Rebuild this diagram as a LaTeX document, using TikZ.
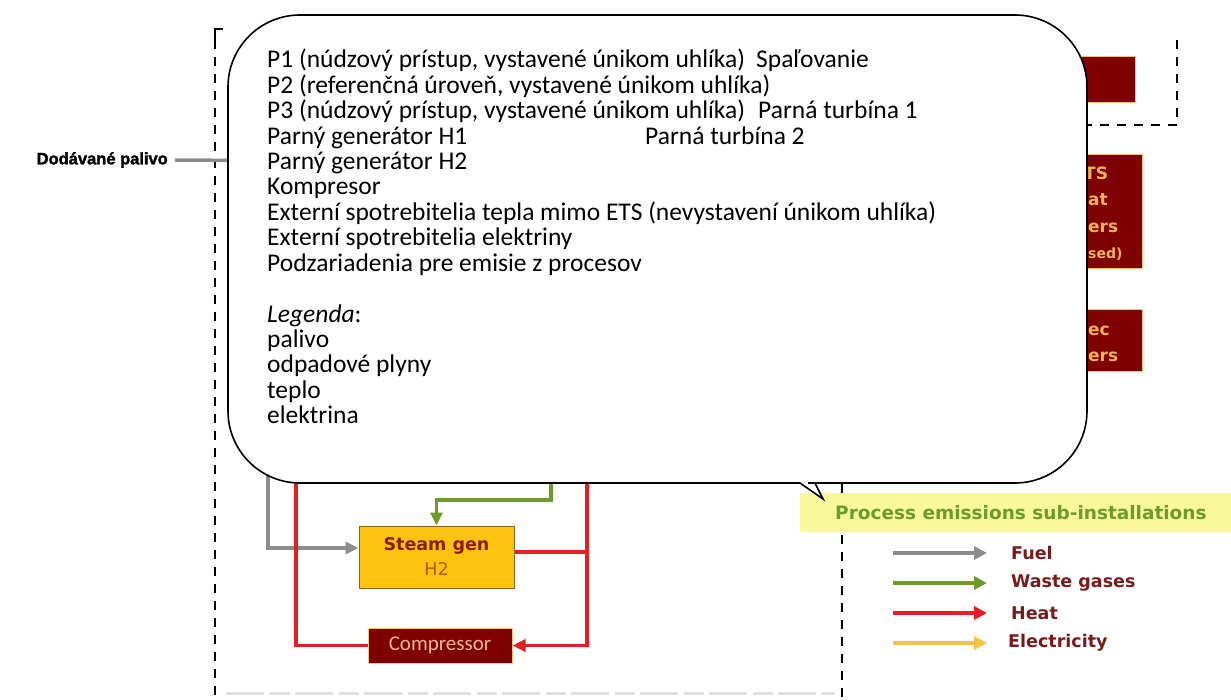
\documentclass[tikz,border=0pt]{standalone}
\usepackage{fontspec}
\setmainfont{Carlito}
\newfontfamily\djv{DejaVu Sans}
\newfontfamily\heavy{Liberation Sans Bold}[FakeBold=1.8]
\usetikzlibrary{arrows.meta}
\definecolor{dred}{HTML}{7F0000}
\definecolor{boxedge}{HTML}{F2C27A}
\definecolor{gold}{HTML}{FFC20E}
\definecolor{goldedge}{HTML}{8A6A10}
\definecolor{fuelgray}{HTML}{8C8C8C}
\definecolor{wastegreen}{HTML}{6E9C2A}
\definecolor{heatred}{HTML}{E51E25}
\definecolor{elecyellow}{HTML}{F5C242}
\definecolor{bandyellow}{HTML}{F8F89C}
\definecolor{labelred}{HTML}{7A1A1A}
\definecolor{fragorange}{HTML}{F4B350}
\definecolor{steamtext}{HTML}{8B1E00}
\definecolor{htwo}{HTML}{B5560C}
\definecolor{comptext}{HTML}{F5B97E}
\tikzset{
  fuel/.style={draw=fuelgray, line width=3.5bp},
  fuelarrow/.style={fuel, -{Triangle[length=13bp,width=12bp]}},
  waste/.style={draw=wastegreen, line width=3.5bp, -{Triangle[length=13bp,width=12bp]}},
  heatline/.style={draw=heatred, line width=3.5bp},
  heatarrow/.style={heatline, -{Triangle[length=13bp,width=12bp]}},
  legarrow/.style={line width=4bp, -{Triangle[length=13bp,width=13bp]}},
  border/.style={draw=black, line width=2bp, dash pattern=on 9bp off 8bp},
  dbox/.style={draw=boxedge, fill=dred, line width=1bp, inner sep=0},
  ctext/.style={anchor=base west, inner sep=0, font=\fontsize{25.5bp}{27bp}\selectfont},
  frag/.style={anchor=base west, inner sep=0, text=fragorange, font=\djv\bfseries\fontsize{17bp}{20bp}\selectfont},
  legtext/.style={anchor=west, inner sep=0, text=labelred, font=\djv\bfseries\fontsize{17.5bp}{20bp}\selectfont},
}
\begin{document}
\begin{tikzpicture}[x=1bp,y=-1bp]
\useasboundingbox[fill=white] (0,0) rectangle (1231,700);

% dashed boundaries
\draw[black, line width=2bp] (223,29) -- (215,29) -- (215,40);
\draw[border] (215,40) -- (215,700);
\draw[border] (842,450) -- (842,700);
\draw[border] (1177,40) -- (1177,125) -- (1050,125);
\draw[black!12, line width=3bp, dash pattern=on 38bp off 6bp on 20bp off 5bp] (226,693) -- (835,693);

% boxes at the right (mostly hidden)
\node[dbox, minimum width=75bp, minimum height=46bp] (comb) at (1097.5,80) {};
\node[dbox, minimum width=82bp, minimum height=113bp] (nonets) at (1101,211.5) {};
\node[dbox, minimum width=82bp, minimum height=62bp] (elcons) at (1101,340) {};
\node[frag] (f1) at (1084,180) {TS};
\node[frag] (f2) at (1088,206) {at};
\node[frag] (f3) at (1088,233) {ers};
\node[frag, font=\djv\bfseries\fontsize{14bp}{16bp}\selectfont] (f4) at (1088,258) {sed)};
\node[frag] (f5) at (1088,335) {ec};
\node[frag] (f6) at (1088,361) {ers};

% fuel input
\node[anchor=east, inner sep=0, font=\heavy\fontsize{16.5bp}{18bp}\selectfont] (fuelin) at (168,160) {Dodávané palivo};
\coordinate (fuelend) at (320,161);
\draw[fuel] ([xshift=7bp]fuelin.east) -- (fuelend);

% process boxes
\node[draw=goldedge, fill=gold, line width=1bp, minimum width=155bp, minimum height=62bp, inner sep=0, align=center,
      font=\djv\fontsize{17.5bp}{25bp}\selectfont] (steam) at (436.5,557)
  {\textcolor{steamtext}{\bfseries Steam gen}\\\textcolor{htwo}{H2}};
\node[dbox, minimum width=144bp, minimum height=35bp, text=comptext, font=\fontsize{21bp}{24bp}\selectfont] (comp) at (440,645.5) {Compressor};

\coordinate (gfuel) at (268,440);
\coordinate (gwaste) at (551,440);
\coordinate (hleft) at (296,440);
\coordinate (hright) at (587,440);
\draw[fuelarrow] (gfuel) |- ([yshift=9bp]steam.west);
\draw[waste] (gwaste) -- (551,500) -| (steam.north);
\draw[heatline] ([yshift=5bp]steam.east) -- ([yshift=5bp]steam.east -| hright);
\draw[heatarrow] (hright) |- (comp.east);
\draw[heatline] (comp.west) -| (hleft);

% process emissions band
\fill[bandyellow] (800,493) rectangle (1231,532);
\node[anchor=west, inner sep=0, text=wastegreen, font=\djv\bfseries\fontsize{18.5bp}{22bp}\selectfont] (proc) at (835,513) {Process emissions sub-installations};

% legend
\coordinate (l1a) at (893,553); \coordinate (l1b) at (987,553);
\coordinate (l2a) at (893,583); \coordinate (l2b) at (987,583);
\coordinate (l3a) at (893,613); \coordinate (l3b) at (987,613);
\coordinate (l4a) at (893,643); \coordinate (l4b) at (987,643);
\draw[legarrow, fuelgray] (l1a) -- (l1b);
\draw[legarrow, wastegreen] (l2a) -- (l2b);
\draw[legarrow, heatred] (l3a) -- (l3b);
\draw[legarrow, elecyellow] (l4a) -- (l4b);
\node[legtext] (lg1) at (1011,553) {Fuel};
\node[legtext] (lg2) at (1011,583) {Waste gases};
\node[legtext] (lg3) at (1011,613) {Heat};
\node[legtext] (lg4) at (1008,643) {Electricity};

% callout
\draw[fill=white, line width=1.6bp] (228,300) [rounded corners=72bp] -- (228,15) -- (1087,15) -- (1087,483) -- (880,483)
  [sharp corners] -- (815,483) -- (823,499) -- (800,483) -- (700,483) [rounded corners=72bp] -- (228,483) -- cycle;

\node[ctext] (t0) at (267,68.0) {P1 (núdzový prístup, vystavené únikom uhlíka)};
\node[ctext] (t0b) at (756,68.0) {Spaľovanie};
\node[ctext] (t1) at (267,93.4) {P2 (referenčná úroveň, vystavené únikom uhlíka)};
\node[ctext] (t2) at (267,118.8) {P3 (núdzový prístup, vystavené únikom uhlíka)};
\node[ctext] (t2b) at (758,118.8) {Parná turbína 1};
\node[ctext] (t3) at (267,144.2) {Parný generátor H1};
\node[ctext] (t3b) at (645,144.2) {Parná turbína 2};
\node[ctext] (t4) at (267,169.6) {Parný generátor H2};
\node[ctext] (t5) at (267,195.0) {Kompresor};
\node[ctext] (t6) at (267,220.4) {Externí spotrebitelia tepla mimo ETS (nevystavení únikom uhlíka)};
\node[ctext] (t7) at (267,245.8) {Externí spotrebitelia elektriny};
\node[ctext] (t8) at (267,271.2) {Podzariadenia pre emisie z procesov};
\node[ctext] (t10) at (267,322.0) {\textit{Legenda}:};
\node[ctext] (t11) at (267,347.4) {palivo};
\node[ctext] (t12) at (267,372.8) {odpadové plyny};
\node[ctext] (t13) at (267,398.2) {teplo};
\node[ctext] (t14) at (267,423.6) {elektrina};
\end{tikzpicture}
\end{document}
